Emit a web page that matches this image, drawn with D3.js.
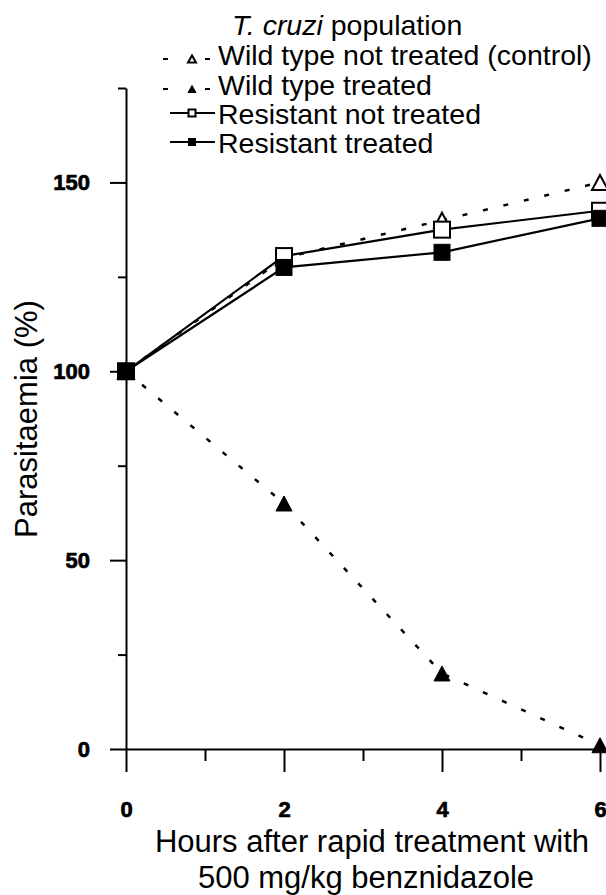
<!DOCTYPE html>
<html>
<head>
<meta charset="utf-8">
<script src="https://cdn.jsdelivr.net/npm/d3@7"></script>
<style>
	body { margin: 0; background: #fff; }
	svg { display: block; font-family: "Liberation Sans", Arial, sans-serif; }
</style>
</head>
<body>
<div id="chart"></div>
<script>
// hours after treatment
var hours = [0, 2, 4, 6];

// parasitaemia (%) per population
var wildNotTreated = [100, 130, 140, 150];
var wildTreated = [100, 65, 20, 1];
var resistantNotTreated = [100, 130.5, 137.5, 142.5];
var resistantTreated = [100, 127.5, 131.5, 140.5];

var seriesNames = [
	"Wild type not treated (control)",
	"Wild type treated",
	"Resistant not treated",
	"Resistant treated"
];
var yTicks = [0, 50, 100, 150];
var yMinorTicks = [25, 75, 125, 175];
var xTicks = [0, 2, 4, 6];
var xMinorTicks = [1, 3, 5];

var width = 606, height = 895;

var svg = d3.select("#chart").append("svg")
	.attr("width", width)
	.attr("height", height);

var x = d3.scaleLinear().domain([0, 6]).range([126, 600]);
var y = d3.scaleLinear().domain([0, 175]).range([749, 88]);

//axes
svg.append("g")
	.attr("transform", "translate(" + x(0) + ",0)")
	.call(d3.axisLeft(y).tickValues(yTicks).tickSize(16).tickSizeOuter(0)
		.tickPadding(20).tickFormat(d3.format("d")));
svg.append("g")
	.attr("transform", "translate(" + x(0) + ",0)")
	.call(d3.axisLeft(y).tickValues(yMinorTicks).tickSize(8).tickSizeOuter(0).tickFormat(""))
	.select(".domain").remove();

svg.append("g")
	.attr("transform", "translate(0," + y(0) + ")")
	.call(d3.axisBottom(x).tickValues(xTicks).tickSize(23).tickSizeOuter(0)
		.tickPadding(29).tickFormat(d3.format("d")));
svg.append("g")
	.attr("transform", "translate(0," + y(0) + ")")
	.call(d3.axisBottom(x).tickValues(xMinorTicks).tickSize(12).tickSizeOuter(0).tickFormat(""))
	.select(".domain").remove();

svg.selectAll(".domain, .tick line")
	.attr("stroke", "#000")
	.attr("stroke-width", 2);
svg.selectAll(".tick text")
	.attr("font-family", "'Liberation Sans', Arial, sans-serif")
	.attr("font-size", 22)
	.attr("font-weight", "bold")
	.attr("fill", "#000")
	.attr("stroke", "#000")
	.attr("stroke-width", 0.7);

//axis titles
svg.append("text")
	.attr("transform", "translate(37,419) rotate(-90)")
	.attr("text-anchor", "middle")
	.attr("font-size", 31)
	.text("Parasitaemia (%)");

svg.append("text")
	.attr("x", 372)
	.attr("y", 852)
	.attr("text-anchor", "middle")
	.attr("font-size", 31)
	.text("Hours after rapid treatment with");
svg.append("text")
	.attr("x", 366)
	.attr("y", 888)
	.attr("text-anchor", "middle")
	.attr("font-size", 31)
	.text("500 mg/kg benznidazole");

function trianglePath(cx, cy, w, h){
	return "M" + cx + "," + (cy - h / 2) + "L" + (cx + w / 2) + "," + (cy + h / 2) +
		"L" + (cx - w / 2) + "," + (cy + h / 2) + "Z";
}

var series = [
	{ name: seriesNames[0], values: wildNotTreated, dashed: true, shape: "triangle", filled: false },
	{ name: seriesNames[1], values: wildTreated, dashed: true, shape: "triangle", filled: true },
	{ name: seriesNames[2], values: resistantNotTreated, dashed: false, shape: "square", filled: false },
	{ name: seriesNames[3], values: resistantTreated, dashed: false, shape: "square", filled: true }
];

var line = d3.line()
	.x(function(d, i){ return x(hours[i]); })
	.y(function(d){ return y(d); });

//lines first, markers on top
series.forEach(function(s){
	svg.append("path")
		.attr("d", line(s.values))
		.attr("fill", "none")
		.attr("stroke", "#000")
		.attr("stroke-width", s.dashed ? 2.5 : 2.2)
		.attr("stroke-dasharray", s.dashed ? "5,16" : null);
});

function drawMarker(g, shape, filled, cx, cy, size){
	if (shape == "triangle"){
		g.append("path")
			.attr("d", trianglePath(cx, cy, size + 1, size))
			.attr("fill", filled ? "#000" : "#fff")
			.attr("stroke", "#000")
			.attr("stroke-width", filled ? 1 : 2);
	}
	else {
		g.append("rect")
			.attr("x", cx - size / 2)
			.attr("y", cy - size / 2)
			.attr("width", size)
			.attr("height", size)
			.attr("fill", filled ? "#000" : "#fff")
			.attr("stroke", "#000")
			.attr("stroke-width", filled ? 1 : 2);
	}
}

series.forEach(function(s){
	var g = svg.append("g");
	s.values.forEach(function(v, i){
		drawMarker(g, s.shape, s.filled, x(hours[i]), y(v), s.shape == "triangle" ? 15 : 16);
	});
});

//legend
var legend = svg.append("g");
var title = legend.append("text")
	.attr("x", 232)
	.attr("y", 35)
	.attr("font-size", 28.5);
title.append("tspan").attr("font-style", "italic").text("T. cruzi");
title.append("tspan").text(" population");

var rowY = [65, 95, 124, 153];
series.forEach(function(s, i){
	var my = s.dashed ? rowY[i] - 6 : rowY[i] - 11;
	legend.append("line")
		.attr("x1", s.dashed ? 163 : 170)
		.attr("x2", s.dashed ? 210 : 215)
		.attr("y1", my)
		.attr("y2", my)
		.attr("stroke", "#000")
		.attr("stroke-width", 2)
		.attr("stroke-dasharray", s.dashed ? "5,37" : null);
	drawMarker(legend, s.shape, s.filled, 192, my, 7);
	legend.append("text")
		.attr("x", 218)
		.attr("y", rowY[i])
		.attr("font-size", 28.5)
		.text(s.name);
});
</script>
</body>
</html>
